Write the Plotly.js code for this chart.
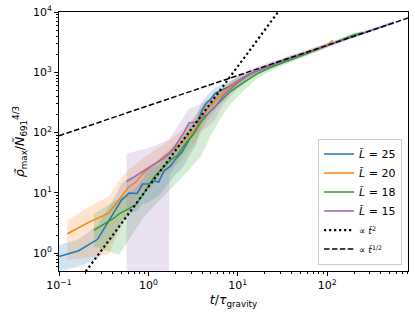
<!DOCTYPE html>
<html>
<head>
<meta charset="utf-8">
<script src="https://cdn.plot.ly/plotly-3.0.1.min.js"></script>
<style>html,body{margin:0;padding:0;background:#fff}#chart{width:415px;height:319px}</style>
</head>
<body>
<div id="chart"></div>
<script>
// ---- data ----
const seriesNames = ["<i>L̃</i> = 25", "<i>L̃</i> = 20", "<i>L̃</i> = 18", "<i>L̃</i> = 15"];
const seriesColors = ["#1f77b4", "#ff7f0e", "#2ca02c", "#9467bd"];
const bandColors = ["rgba(31,119,180,0.2)", "rgba(255,127,14,0.2)", "rgba(44,160,44,0.2)", "rgba(148,103,189,0.2)"];

const tL25 = [0.1, 0.166, 0.27, 0.41, 0.5, 0.61, 0.75, 0.86, 1.0, 1.15, 1.3, 1.49, 1.77, 2.0, 2.4, 2.85, 3.4, 3.9, 4.4, 5.0, 5.6, 6.5, 8, 10, 12, 15, 20, 28, 40, 55];
const yL25 = [0.88, 1.1, 1.7, 4.6, 7.6, 10, 9.8, 14, 14, 16, 15, 23, 28, 36, 48, 75, 110, 220, 300, 360, 450, 500, 580, 720, 850, 1000, 1180, 1450, 1750, 2050];
const loL25 = [0.5, 0.6, 0.8, 1.8, 3, 4.5, 5, 6.5, 7, 8, 9, 12, 16, 20, 26, 40, 62, 120, 170, 230, 300, 360, 450, 600, 740, 890, 1070, 1330, 1610, 1900];
const hiL25 = [1.35, 1.7, 2.9, 8, 14, 18, 19, 23, 25, 28, 30, 38, 46, 55, 80, 120, 170, 300, 400, 470, 560, 620, 700, 840, 960, 1110, 1300, 1580, 1900, 2200];

const tL20 = [0.124, 0.22, 0.36, 0.5, 0.6, 0.72, 0.85, 1.05, 1.3, 1.5, 1.8, 2.2, 2.7, 3.3, 3.9, 4.5, 5.5, 6.5, 8, 10, 13, 17, 23, 30, 40, 55, 75, 90, 100, 110, 115];
const yL20 = [2.1, 3.3, 4.6, 9, 12.5, 15, 20, 27, 33, 40, 50, 62, 85, 110, 170, 240, 330, 430, 560, 710, 880, 1080, 1300, 1500, 1750, 2050, 2400, 2700, 2850, 3150, 3400];
const loL20 = [0.78, 0.85, 0.95, 3, 5, 7, 10, 12, 16, 20, 26, 32, 45, 65, 100, 150, 220, 310, 430, 580, 760, 960, 1180, 1370, 1610, 1900, 2230, 2520, 2660, 2950, 3150];
const hiL20 = [3.5, 6, 8.7, 18, 24, 30, 36, 45, 55, 65, 80, 100, 130, 180, 250, 340, 440, 540, 690, 850, 1010, 1200, 1420, 1630, 1890, 2200, 2570, 2880, 3040, 3350, 3620];

const tL18 = [0.245, 0.41, 0.47, 0.72, 0.89, 1.15, 1.26, 1.77, 2.1, 2.7, 3.2, 3.86, 5, 6.4, 8.3, 11.7, 16.6, 23.3, 32, 45, 65, 90, 130, 160, 200, 250];
const yL18 = [2.4, 3.8, 4.5, 6.3, 9.8, 18, 21, 35, 42, 71, 95, 150, 230, 330, 480, 680, 950, 1200, 1450, 1750, 2150, 2600, 3200, 3700, 4200, 4550];
const loL18 = [1.3, 1.0, 0.95, 2.5, 4, 6, 7, 12, 15, 22, 30, 40, 90, 170, 300, 500, 800, 1050, 1300, 1590, 1970, 2400, 2980, 3450, 3930, 4270];
const hiL18 = [4.5, 7, 8, 12, 18, 30, 34, 55, 70, 120, 170, 260, 360, 460, 600, 800, 1060, 1320, 1590, 1900, 2330, 2800, 3420, 3950, 4480, 4850];

const tL15 = [0.57, 1.0, 1.5, 1.68, 1.72, 2.0, 2.5, 2.85, 3.4, 3.9, 4.5, 5.5, 6.2, 7.0, 8.4, 10, 14, 20, 30, 50, 80, 120, 180, 260, 380, 470, 560];
const yL15 = [15.4, 26, 38, 44, 45, 60, 100, 146, 148, 175, 200, 260, 330, 420, 540, 680, 950, 1200, 1500, 1950, 2500, 3100, 3850, 4650, 5650, 6300, 6700];
const loL15 = [0.01, 0.01, 0.01, 0.01, 20, 28, 55, 80, 90, 110, 120, 160, 220, 300, 410, 540, 790, 1040, 1330, 1760, 2280, 2840, 3550, 4300, 5250, 5860, 6250];
const hiL15 = [45, 55, 70, 75, 78, 110, 190, 250, 270, 300, 340, 410, 480, 570, 700, 850, 1130, 1390, 1700, 2170, 2760, 3400, 4200, 5050, 6100, 6780, 7200];

// tick labels
const xTickVals = [0.1, 1, 10, 100];
const xTickText = ["10<sup>−1</sup>", "10<sup>0</sup>", "10<sup>1</sup>", "10<sup>2</sup>"];
const yTickVals = [1, 10, 100, 1000, 10000];
const yTickText = ["10<sup>0</sup>", "10<sup>1</sup>", "10<sup>2</sup>", "10<sup>3</sup>", "10<sup>4</sup>"];

// reference power laws (end points of each straight line on log-log axes)
const refT = [0.1, 1000];
const refT2 = [0.125, 12500000];      // ∝ t^2
const refTHalf = [88.5, 8854];        // ∝ t^(1/2)

const ts = [tL25, tL20, tL18, tL15];
const ys = [yL25, yL20, yL18, yL15];
const los = [loL25, loL20, loL18, loL15];
const his = [hiL25, hiL20, hiL18, hiL15];

const traces = [];
for (let i = 0; i < 4; i++) {
  const t = ts[i];
  traces.push({
    x: t.concat(t.slice().reverse()),
    y: his[i].concat(los[i].slice().reverse()),
    type: 'scatter', mode: 'lines', fill: 'toself',
    fillcolor: bandColors[i], line: {width: 0, color: bandColors[i]},
    showlegend: false, hoverinfo: 'skip'
  });
}
for (let i = 0; i < 4; i++) {
  traces.push({
    x: ts[i], y: ys[i], type: 'scatter', mode: 'lines',
    name: seriesNames[i], line: {color: seriesColors[i], width: 1.5}
  });
}
traces.push({x: refT, y: refT2, type: 'scatter', mode: 'lines',
  name: '<span style="font-size:9px">∝ <i>t̃</i><sup>2</sup></span>',
  line: {color: '#000', width: 2.2, dash: '2.2px,2.8px'}});
traces.push({x: refT, y: refTHalf, type: 'scatter', mode: 'lines',
  name: '<span style="font-size:9px">∝ <i>t̃</i><sup>1/2</sup></span>',
  line: {color: '#000', width: 1.5, dash: '5.5px,2.4px'}});

const axisCommon = {
  type: 'log', showgrid: false, zeroline: false,
  showline: true, linecolor: '#000', linewidth: 1, mirror: true,
  ticks: 'outside', ticklen: 4, tickwidth: 1, tickcolor: '#000',
  tickmode: 'array',
  minor: {ticks: 'outside', ticklen: 2, tickcolor: '#000', dtick: 'D1', showgrid: false},
  tickfont: {family: 'DejaVu Sans', size: 11, color: '#000'}
};

const layout = {
  width: 415, height: 319,
  margin: {l: 59, r: 7, t: 12, b: 48},
  paper_bgcolor: '#fff', plot_bgcolor: '#fff',
  font: {family: 'DejaVu Sans', color: '#000', size: 11},
  xaxis: Object.assign({}, axisCommon, {
    range: [-1, 2.905], tickvals: xTickVals, ticktext: xTickText,
    title: {text: '<i>t</i>/<i>τ</i><sub>gravity</sub>', font: {size: 12.5}, standoff: 3}
  }),
  yaxis: Object.assign({}, axisCommon, {
    range: [-0.295, 4], tickvals: yTickVals, ticktext: yTickText,
    title: {text: '<i>ρ̃</i><sub>max</sub>/<i>Ñ</i><sub>691</sub><sup>4/3</sup>', font: {size: 12.5}, standoff: 5}
  }),
  legend: {
    x: 0.983, y: 0.025, xanchor: 'right', yanchor: 'bottom',
    bgcolor: 'rgba(255,255,255,0.8)', bordercolor: '#ccc', borderwidth: 1,
    font: {family: 'DejaVu Sans', size: 11, color: '#000'},
    itemwidth: 30, tracegroupgap: 0
  },
  showlegend: true
};

Plotly.newPlot('chart', traces, layout, {displayModeBar: false, staticPlot: true});
</script>
</body>
</html>
